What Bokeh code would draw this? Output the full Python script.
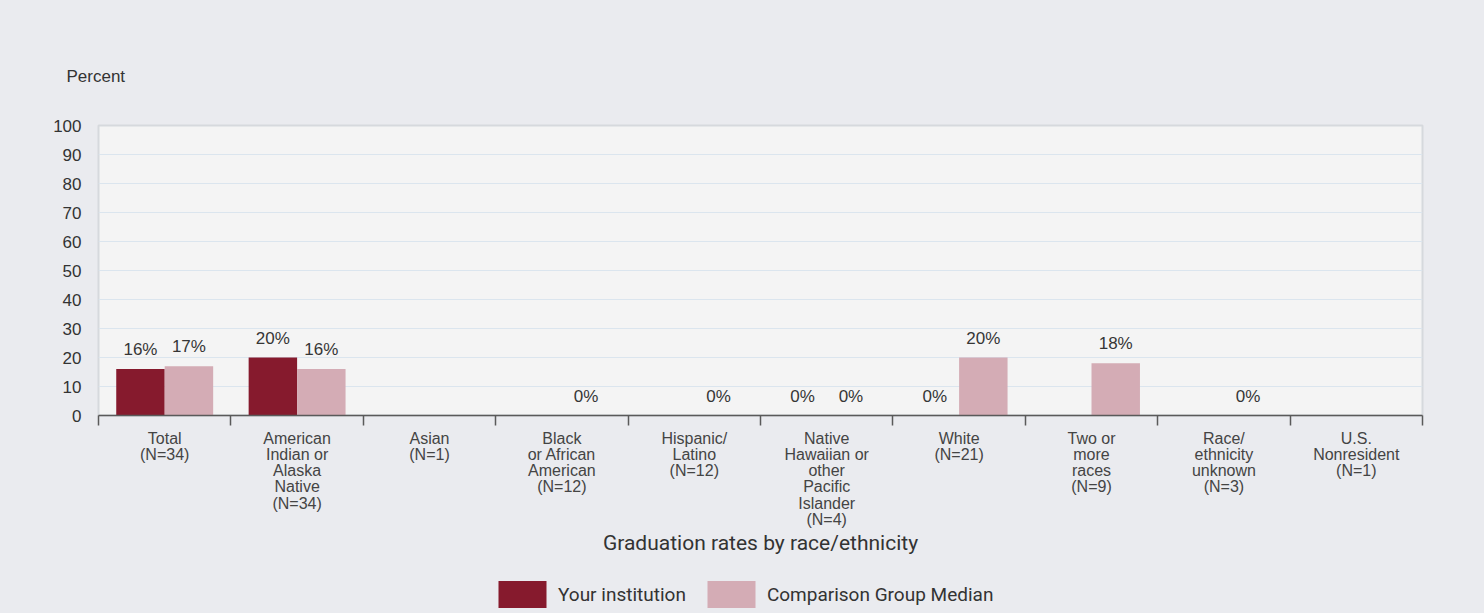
from bokeh.plotting import figure
from bokeh.layouts import column
from bokeh.models import ColumnDataSource, FixedTicker, LabelSet, Legend, LegendItem
from bokeh.core.properties import value
from bokeh.embed import file_html
from bokeh.resources import INLINE

categories = [
    "Total\n(N=34)",
    "American\nIndian or\nAlaska\nNative\n(N=34)",
    "Asian\n(N=1)",
    "Black\nor African\nAmerican\n(N=12)",
    "Hispanic/\nLatino\n(N=12)",
    "Native\nHawaiian or\nother\nPacific\nIslander\n(N=4)",
    "White\n(N=21)",
    "Two or\nmore\nraces\n(N=9)",
    "Race/\nethnicity\nunknown\n(N=3)",
    "U.S.\nNonresident\n(N=1)",
]
your_institution = [16, 20, None, None, None, 0, 0, None, None, None]
comparison_median = [17, 16, None, 0, 0, 0, 20, 18, 0, None]
y_ticks = [0, 10, 20, 30, 40, 50, 60, 70, 80, 90, 100]
series_names = ["Your institution", "Comparison Group Median"]
colors = ["#861A2D", "#D4ACB5"]

BG = "#EAEBEF"
DODGE = 0.183
BW = 0.366
FRAME_W, FRAME_H = 1324, 290

p = figure(frame_width=FRAME_W, frame_height=FRAME_H, output_backend="svg", toolbar_location=None,
           x_range=(0, len(categories)), y_range=(0, 100),
           min_border_left=98, min_border_right=62, min_border_top=125,
           min_border_bottom=150)
p.border_fill_color = BG
p.background_fill_color = "#F4F4F4"
p.outline_line_color = "#D6D9DD"
p.outline_line_width = 2

# "Percent" caption above the value axis
p.title.text = "Percent"
p.title.align = "left"
p.title.offset = -32
p.title.standoff = 80
p.title.text_font = "Liberation Sans"
p.title.text_font_size = "17px"
p.title.text_font_style = "normal"
p.title.text_color = "#333333"

# y axis
p.yaxis.ticker = FixedTicker(ticks=y_ticks)
p.yaxis.axis_line_color = None
p.yaxis.major_tick_line_color = None
p.yaxis.minor_tick_line_color = None
p.yaxis.major_label_standoff = 11
p.yaxis.major_label_text_font = "Liberation Sans"
p.yaxis.major_label_text_font_size = "17px"
p.yaxis.major_label_text_color = "#333333"
p.ygrid.ticker = FixedTicker(ticks=y_ticks)
p.ygrid.grid_line_color = "#DBE5EE"
p.xgrid.grid_line_color = None

# x axis: labels at centers, ticks at category boundaries
centers = [i + 0.5 for i in range(len(categories))]
bounds = [i for i in range(len(categories) + 1)]
p.xaxis.ticker = FixedTicker(ticks=centers, minor_ticks=bounds)
p.xaxis.major_label_overrides = {c: lab for c, lab in zip(centers, categories)}
p.xaxis.major_tick_line_color = None
p.xaxis.minor_tick_line_color = "#5A5A5A"
p.xaxis.minor_tick_line_width = 1.5
p.xaxis.minor_tick_out = 10
p.xaxis.minor_tick_in = 0
p.xaxis.major_tick_out = 10
p.xaxis.major_tick_in = 0
p.xaxis.axis_line_color = "#5A5A5A"
p.xaxis.axis_line_width = 1.5
p.xaxis.major_label_standoff = 4
p.xaxis.major_label_text_font = "Liberation Sans"
p.xaxis.major_label_text_font_size = "16px"
p.xaxis.major_label_text_line_height = 0.96
p.xaxis.major_label_text_color = "#444444"
p.xaxis.axis_label = "Graduation rates by race/ethnicity"
p.xaxis.axis_label_text_font = "Roboto"
p.xaxis.axis_label_text_font_size = "21px"
p.xaxis.axis_label_text_font_style = "normal"
p.xaxis.axis_label_text_color = "#333333"
p.xaxis.axis_label_standoff = 0

# bars
for vals, off, col in [(your_institution, -DODGE, colors[0]), (comparison_median, DODGE, colors[1])]:
    xs = [c + off for c, v in zip(centers, vals) if v is not None]
    ys = [v for v in vals if v is not None]
    src = ColumnDataSource(dict(x=xs, top=ys, label=[f"{v}%" for v in ys]))
    p.vbar(x="x", top="top", width=BW, source=src, fill_color=col, line_color=None)
    p.add_layout(LabelSet(x="x", y="top", text="label", source=src,
                          text_align="center", text_baseline="bottom", y_offset=10,
                          text_font=value("Liberation Sans"), text_font_size=value("17px"),
                          text_color="#363636"))

# legend strip below the chart (its own small figure, frame aligned with the chart's)
lg = figure(frame_width=FRAME_W, frame_height=48, output_backend="svg", toolbar_location=None,
            x_range=(0, 1), y_range=(0, 1),
            min_border_left=98, min_border_right=62, min_border_top=0, min_border_bottom=0)
lg.axis.visible = False
lg.grid.visible = False
lg.outline_line_color = None
lg.border_fill_color = BG
lg.background_fill_color = None

items = []
for name, col, vals in zip(series_names, colors, [your_institution, comparison_median]):
    r = lg.vbar(x=[0.5], top=[0], width=0, fill_color=col, line_color=None, border_radius=4)
    items.append(LegendItem(label=name, renderers=[r]))
legend = Legend(items=items, orientation="horizontal", location=(394, 2),
                glyph_width=60, glyph_height=34, label_standoff=6, spacing=15,
                label_text_font="Roboto", label_text_font_size="19px",
                label_text_color="#333333", border_line_color=None,
                background_fill_alpha=0, margin=0, padding=0)
lg.add_layout(legend, "center")

layout = column(p, lg, spacing=0)
layout.styles = {"background-color": BG}
open("out.html", "w").write(file_html(layout, INLINE))
